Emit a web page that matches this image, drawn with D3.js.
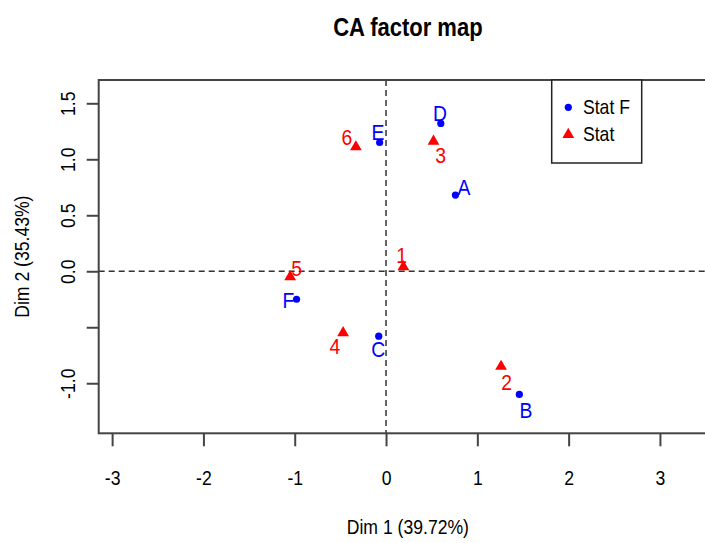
<!DOCTYPE html>
<html>
<head>
<meta charset="utf-8">
<script src="https://cdn.jsdelivr.net/npm/d3@7"></script>
<style>
  html, body { margin: 0; padding: 0; background: #fff; }
  svg { display: block; font-family: "Liberation Sans", Arial, sans-serif; }
</style>
</head>
<body>
<svg id="chart" width="705" height="543"></svg>
<script>
// ---- data ----
const colNames = ["A", "B", "C", "D", "E", "F"];          // Stat F (columns)
const colX = [0.76, 1.46, -0.08, 0.60, -0.07, -0.98];
const colY = [0.68, -1.10, -0.58, 1.32, 1.15, -0.25];
const colLabX = [0.854, 1.533, -0.084, 0.591, -0.088, -1.07];
const colLabY = [0.753, -1.245, -0.696, 1.413, 1.244, -0.263];

const rowNames = ["1", "2", "3", "4", "5", "6"];          // Stat (rows)
const rowX = [0.19, 1.26, 0.52, -0.47, -1.05, -0.33];
const rowY = [0.04, -0.85, 1.16, -0.55, -0.05, 1.11];
const rowLabX = [0.172, 1.322, 0.599, -0.559, -0.979, -0.430];
const rowLabY = [0.146, -0.995, 1.038, -0.673, 0.027, 1.199];

const xTicks = [-3, -2, -1, 0, 1, 2, 3];
const yTicks = [-1.0, -0.5, 0.0, 0.5, 1.0, 1.5];
const yTickLabels = ["-1.0", "", "0.0", "0.5", "1.0", "1.5"];
const legendNames = ["Stat F", "Stat"];
const title = "CA factor map";
const xTitle = "Dim 1 (39.72%)";
const yTitle = "Dim 2 (35.43%)";

// ---- layout ----
const L = 98.7, R = 717, T = 80, B = 433.3;
const xDomain = [-3.147, 3.625];
const yDomain = [-1.447, 1.708];
const BLUE = "#0000ff", RED = "#ff0000", AXIS = "#444";
const SX = 0.88;   // horizontal text compression seen in the reference

const svg = d3.select("#chart");
const x = d3.scaleLinear().domain(xDomain).range([L, R]);
const y = d3.scaleLinear().domain(yDomain).range([B, T]);

function label(g, tx, ty, str, opts = {}) {
  const rot = opts.rotate ? ` rotate(${opts.rotate})` : "";
  return g.append("text")
    .attr("transform", `translate(${tx},${ty})${rot} scale(${SX},1)`)
    .attr("text-anchor", opts.anchor || "middle")
    .attr("dy", opts.dy || "0.35em")
    .attr("font-size", opts.size || 20)
    .attr("font-weight", opts.weight || "normal")
    .attr("fill", opts.fill || "#000")
    .text(str);
}

// title
label(svg, (L + R) / 2, 27, title, { size: 25, weight: "bold" });

// zero lines
svg.append("line").attr("x1", L).attr("x2", R).attr("y1", y(0)).attr("y2", y(0))
  .attr("stroke", "#333").attr("stroke-width", 1.5).attr("stroke-dasharray", "6,4");
svg.append("line").attr("x1", x(0)).attr("x2", x(0)).attr("y1", T).attr("y2", B)
  .attr("stroke", "#333").attr("stroke-width", 1.5).attr("stroke-dasharray", "6,4");

// box
svg.append("rect").attr("x", L).attr("y", T).attr("width", R - L).attr("height", B - T)
  .attr("fill", "none").attr("stroke", AXIS).attr("stroke-width", 2);

// axes
const xAxis = svg.append("g").attr("transform", `translate(0,${B})`)
  .call(d3.axisBottom(x).tickValues(xTicks).tickSize(13).tickFormat(""));
xAxis.select(".domain").remove();
xAxis.selectAll("line").attr("stroke", AXIS).attr("stroke-width", 2);
xAxis.selectAll("text").remove();
xAxis.selectAll(".tick").each(function (d) {
  label(d3.select(this), 0, 45, String(d));
});

const yAxis = svg.append("g").attr("transform", `translate(${L},0)`)
  .call(d3.axisLeft(y).tickValues(yTicks).tickSize(12).tickFormat(""));
yAxis.select(".domain").remove();
yAxis.selectAll("line").attr("stroke", AXIS).attr("stroke-width", 2);
yAxis.selectAll("text").remove();
yAxis.selectAll(".tick").each(function (d, i) {
  if (yTickLabels[i]) label(d3.select(this), -31, 0, yTickLabels[i], { rotate: -90 });
});

// axis titles
label(svg, (L + R) / 2, 527, xTitle);
label(svg, 22, (T + B) / 2, yTitle, { rotate: -90 });

// points
const tri = d3.symbol().type(d3.symbolTriangle).size(60);
const colData = colNames.map((n, i) => ({ n, x: colX[i], y: colY[i], lx: colLabX[i], ly: colLabY[i] }));
const rowData = rowNames.map((n, i) => ({ n, x: rowX[i], y: rowY[i], lx: rowLabX[i], ly: rowLabY[i] }));

svg.append("g").selectAll("circle").data(colData).join("circle")
  .attr("cx", d => x(d.x)).attr("cy", d => y(d.y)).attr("r", 3.6).attr("fill", BLUE);
svg.append("g").selectAll("path").data(rowData).join("path")
  .attr("d", tri).attr("transform", d => `translate(${x(d.x)},${y(d.y)})`).attr("fill", RED);

const labG = svg.append("g");
colData.forEach(d => label(labG, x(d.lx), y(d.ly), d.n, { size: 22, fill: BLUE }));
rowData.forEach(d => label(labG, x(d.lx), y(d.ly), d.n, { size: 22, fill: RED }));

// legend
const lg = svg.append("g");
lg.append("rect").attr("x", 551.7).attr("y", T).attr("width", 90).attr("height", 83)
  .attr("fill", "#fff").attr("stroke", "#222").attr("stroke-width", 1.5);
lg.append("circle").attr("cx", 568.3).attr("cy", 107.3).attr("r", 3.6).attr("fill", BLUE);
lg.append("path").attr("d", tri).attr("transform", "translate(568.3,134.5)").attr("fill", RED);
legendNames.forEach((n, i) => label(lg, 583, 107.3 + i * 27, n, { anchor: "start" }));
</script>
</body>
</html>
